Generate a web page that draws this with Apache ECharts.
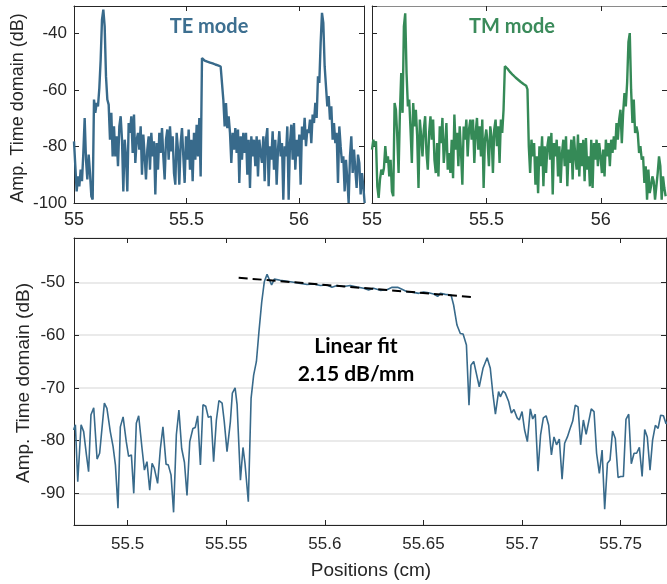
<!DOCTYPE html>
<html>
<head>
<meta charset="utf-8">
<script src="https://cdn.jsdelivr.net/npm/echarts@6/dist/echarts.min.js"></script>
<style>
  html, body { margin: 0; padding: 0; background: #fff; }
  #chart { width: 667px; height: 584px; }
</style>
</head>
<body>
<div id="chart"></div>
<script>
// TE mode trace (top left), sampled from 55 cm on a fixed step
var teStart = 55.0, teStep = 0.005926;
var teValues = [
  -78.2, -87.0, -95.9, -90.6, -94.1, -88.2, -92.3, -82.3, -69.9, -84.7,
  -91.7, -82.9, -89.4, -97.6, -98.8, -63.4, -68.1, -64.6, -65.8, -59.3,
  -49.3, -35.1, -31.6, -37.5, -55.2, -63.4, -65.2, -77.6, -68.1, -83.5,
  -72.9, -83.5, -76.4, -87.0, -72.9, -69.3, -77.6, -95.9, -77.6, -83.5,
  -95.9, -71.7, -75.2, -69.3, -82.3, -68.7, -85.8, -77.6, -75.2, -81.1,
  -72.9, -90.0, -75.8, -83.5, -91.7, -81.1, -76.4, -88.2, -75.2, -83.5,
  -78.2, -97.0, -78.8, -88.2, -75.2, -82.3, -73.5, -83.5, -91.7, -77.6,
  -74.0, -84.7, -72.9, -81.7, -76.4, -89.4, -93.5, -75.2, -81.1, -93.5,
  -78.8, -73.5, -83.5, -92.9, -76.4, -84.7, -74.0, -88.2, -77.6, -92.3,
  -75.2, -84.7, -72.3, -83.5, -69.9, -90.6,
  -48.7, -49.3, -49.6, -49.8, -50.0, -50.1, -50.3, -50.5, -50.6, -50.8,
  -51.0, -51.1, -51.3, -51.5, -51.7, -52.1, -63.4,
  -72.9, -64.6, -73.5, -69.3, -75.2, -85.8, -75.2, -81.1, -73.5, -82.3,
  -74.0, -92.9, -76.4, -84.7, -75.2, -82.3, -75.2, -90.0, -77.6, -94.7,
  -76.4, -83.5, -77.6, -87.0, -76.4, -90.6, -77.6, -82.3, -85.8, -76.4,
  -92.3, -77.6, -73.5, -94.1, -79.9, -84.7, -74.6, -88.2, -77.6, -93.5,
  -81.1, -74.6, -83.5, -78.8, -98.8, -79.9, -83.5, -72.9, -98.8, -78.8,
  -72.3, -84.7, -71.7, -88.2, -77.6, -83.5, -75.8, -93.5, -72.9, -77.6,
  -69.9, -79.9, -74.0, -75.2, -70.5, -78.8, -68.7, -71.7, -64.6, -69.9,
  -55.2, -57.5, -43.4, -32.7, -36.3, -51.6, -58.7, -65.8, -62.2, -70.5,
  -65.8, -77.6, -71.7, -78.8, -75.2, -92.9, -72.9, -79.9, -85.8, -83.5,
  -95.9, -84.7, -91.7, -100.0, -83.5, -76.4, -89.4, -81.1, -88.2, -94.7,
  -82.9, -85.8, -97.0, -89.4, -94.1, -100.0
];

// TM mode trace (top right)
var tmStart = 55.0, tmStep = 0.005806;
var tmValues = [
  -81.1, -77.6, -79.9, -78.2, -94.1, -98.2, -91.7, -88.2, -90.0, -87.6,
  -79.9, -85.8, -83.5, -90.6, -84.7, -95.9, -97.6, -64.6, -67.0, -76.4,
  -89.4, -68.1, -54.0, -68.1, -37.5, -32.9, -54.0, -65.8, -63.4, -74.0,
  -85.8, -64.6, -72.9, -67.0, -76.4, -94.7, -70.5, -76.4, -83.5, -74.0,
  -69.3, -82.3, -88.2, -75.2, -69.3, -77.6, -70.5, -84.7, -89.4, -78.8,
  -90.6, -72.9, -78.8, -69.9, -85.8, -79.9, -71.7, -88.2, -82.3, -89.4,
  -77.6, -91.2, -68.7, -81.1, -75.2, -87.0, -72.9, -82.3, -93.5, -72.9,
  -77.6, -70.5, -83.5, -74.0, -70.5, -77.6, -70.5, -85.8, -75.2, -69.9,
  -81.1, -72.9, -83.5, -70.5, -94.7, -77.6, -74.0, -78.8, -87.0, -72.9,
  -76.4, -89.4, -74.0, -70.5, -79.9, -72.9, -85.8, -70.5, -75.2, -67.0,
  -51.6, -51.9, -52.5, -53.1, -53.7, -54.2, -54.7, -55.1, -55.6, -56.0,
  -56.4, -56.8, -57.2, -57.6, -57.9, -58.2, -58.5, -59.8,
  -79.9, -89.4, -77.6, -83.5, -78.8, -93.5, -83.5, -96.5, -79.9, -87.0,
  -76.4, -94.1, -79.9, -89.4, -79.9, -76.4, -84.7, -75.2, -97.0, -78.8,
  -83.5, -77.6, -90.6, -79.9, -92.9, -82.3, -77.6, -87.0, -76.4, -94.1,
  -81.1, -85.8, -77.6, -91.7, -76.4, -83.5, -88.2, -75.8, -90.6, -78.8,
  -87.0, -77.6, -92.3, -77.0, -88.2, -83.5, -94.1, -77.6, -94.7, -78.8,
  -84.7, -77.6, -87.0, -78.8, -83.5, -89.4, -81.1, -90.6, -77.6, -83.5,
  -78.8, -87.0, -77.6, -82.3, -76.4, -81.1, -71.7, -77.6, -70.5, -67.0,
  -78.8, -68.1, -61.1, -65.8, -57.5, -43.0, -39.9, -59.9, -71.7, -63.4,
  -75.2, -72.9, -75.2, -82.3, -79.9, -84.7, -83.5, -92.9, -87.0, -98.8,
  -88.2, -96.5, -94.1, -90.6, -92.3, -98.8, -94.1, -89.4, -83.5, -87.0,
  -98.8, -90.6, -94.7, -97.6
];

// zoomed TE trace (bottom)
var zoomX = [
  55.4726, 55.4735, 55.4747, 55.4764, 55.4777, 55.4791, 55.4802, 55.4814, 55.4828, 55.4845,
  55.4858, 55.4882, 55.4895, 55.4912, 55.4926, 55.4938, 55.4951, 55.4963, 55.4977, 55.4993,
  55.5005, 55.5019, 55.5031, 55.5044, 55.5056, 55.5073, 55.5085, 55.5098, 55.5112, 55.5124,
  55.5135, 55.5152, 55.5166, 55.5179, 55.5195, 55.5206, 55.5220, 55.5233, 55.5247, 55.5260,
  55.5274, 55.5288, 55.5301, 55.5315, 55.5331, 55.5343, 55.5355, 55.5369, 55.5382, 55.5396,
  55.5409, 55.5423, 55.5436, 55.5450, 55.5463, 55.5479, 55.5490, 55.5504,
  55.5521, 55.5531, 55.5545, 55.5555, 55.5572, 55.5585, 55.5595, 55.5612, 55.5626, 55.5639,
  55.5653, 55.5666, 55.5680, 55.5693, 55.5707, 55.5720, 55.5730, 55.5744, 55.5774, 55.5808,
  55.5842, 55.5876, 55.5910, 55.5943, 55.5977, 55.6011, 55.6036, 55.6062, 55.6095, 55.6129,
  55.6163, 55.6197, 55.6222, 55.6247, 55.6281, 55.6315, 55.6341, 55.6369, 55.6391, 55.6417,
  55.6450, 55.6476, 55.6501, 55.6526, 55.6552, 55.6572, 55.6586, 55.6611, 55.6640, 55.6653,
  55.6670, 55.6687, 55.6701, 55.6718, 55.6731, 55.6741, 55.6755, 55.6783, 55.6802, 55.6823,
  55.6839, 55.6853, 55.6865, 55.6881, 55.6890, 55.6904, 55.6915, 55.6932, 55.6946, 55.6959,
  55.6975, 55.6986, 55.7000, 55.7013, 55.7027, 55.7042, 55.7054, 55.7067, 55.7081, 55.7094,
  55.7108, 55.7122, 55.7135, 55.7149, 55.7162, 55.7175, 55.7189, 55.7203, 55.7216, 55.7230,
  55.7243, 55.7257, 55.7270, 55.7284, 55.7297, 55.7311, 55.7325, 55.7338, 55.7351, 55.7365,
  55.7378, 55.7392, 55.7406, 55.7419, 55.7433, 55.7446, 55.7459, 55.7473, 55.7487, 55.7500,
  55.7514, 55.7527, 55.7541, 55.7554, 55.7568, 55.7581, 55.7595, 55.7609, 55.7622, 55.7635,
  55.7649, 55.7662, 55.7676, 55.7690, 55.7703, 55.7717, 55.7730, 55.7737
];
var zoomY = [
  -78.0, -77.0, -87.8, -77.0, -78.3, -82.7, -85.9, -75.1, -73.8, -83.5,
  -82.4, -72.9, -73.9, -78.3, -81.1, -84.6, -92.8, -77.4, -75.5, -80.2,
  -83.0, -82.7, -90.0, -76.7, -75.3, -81.5, -85.6, -84.0, -89.4, -84.3,
  -85.2, -88.1, -81.5, -77.4, -84.5, -84.6, -86.5, -93.6, -78.9, -74.2,
  -81.5, -84.1, -90.4, -80.2, -77.7, -77.5, -75.3, -84.6, -73.2, -73.5,
  -75.6, -75.4, -84.0, -76.1, -72.4, -72.9, -76.4, -82.1,
  -76.4, -71.0, -70.0, -73.2, -87.5, -81.3, -84.3, -91.6, -72.0, -67.6,
  -65.0, -59.3, -53.7, -49.9, -48.5, -49.6, -50.5, -49.4, -49.6, -49.8,
  -50.0, -50.2, -50.4, -50.3, -50.6, -50.5, -50.95, -50.6, -50.8, -50.6,
  -50.9, -51.14, -51.46, -51.14, -51.52, -51.4, -50.95, -50.95, -51.33, -51.78,
  -51.9, -52.09, -51.84, -51.97, -52.22, -52.66, -52.09, -52.28, -52.41, -54.3,
  -58.1, -59.7, -59.8, -61.9, -73.3, -65.7, -65.0, -69.8, -66.3, -64.3,
  -66.3, -71.4, -75.0, -70.7, -71.7, -70.6, -71.0, -72.6, -74.8, -74.1,
  -75.7, -76.1, -74.5, -78.0, -80.2, -74.0, -75.9, -75.0, -85.8, -78.9,
  -75.7, -75.3, -77.1, -82.7, -79.3, -80.8, -79.7, -87.3, -80.5, -79.3,
  -77.8, -76.3, -73.3, -73.6, -80.8, -76.1, -78.8, -76.4, -74.0, -74.5,
  -82.4, -86.2, -81.8, -93.0, -84.3, -83.7, -78.2, -79.6, -87.0, -86.8,
  -86.8, -76.0, -75.0, -84.4, -82.4, -82.4, -81.3, -86.8, -77.9, -79.3,
  -85.6, -79.9, -77.1, -77.7, -75.2, -75.3, -76.8, -76.4
];

// linear fit end points
var fitX = [55.5563, 55.6763];
var fitY = [-49.13, -52.84];

var teColor = '#386a8b';
var tmColor = '#358a57';
var axisColor = '#262626';

function pairs(xs, ys) {
  return ys.map(function (y, i) { return [xs[i], y]; });
}
function stepped(start, step, ys) {
  return ys.map(function (y, i) { return [+(start + i * step).toFixed(5), y]; });
}

function makeAxis(grid, min, max, pos, withLabels, fontSize, margin, extra) {
  var ax = {
    type: 'value', gridIndex: grid, position: pos, min: min, max: max,
    axisLine: { show: true, onZero: false, lineStyle: { color: axisColor, width: 1 } },
    axisTick: { show: true, inside: true, length: 5, lineStyle: { color: axisColor } },
    axisLabel: {
      show: withLabels, margin: margin, showMaxLabel: false,
      color: axisColor, fontFamily: 'Liberation Sans', fontSize: fontSize
    },
    splitLine: { show: false }
  };
  return echarts.util.merge(ax, extra || {}, true);
}

var topXMax = 56.289;
var zoomXMin = 55.4728, zoomXMax = 55.7730;
var noMin = { axisLabel: { showMinLabel: false } };

var option = {
  animation: false,
  backgroundColor: '#ffffff',
  grid: [
    { left: 74, top: 6, width: 290, height: 197 },
    { left: 372, top: 6, width: 296, height: 197 },
    { left: 74, top: 238, width: 592, height: 287 }
  ],
  xAxis: [
    makeAxis(0, 55, topXMax, 'bottom', true, 18, 8, { interval: 0.5 }),
    makeAxis(1, 55, topXMax, 'bottom', true, 18, 8, { interval: 0.5 }),
    makeAxis(2, zoomXMin, zoomXMax, 'bottom', true, 17, 11,
      { splitNumber: 6, axisLabel: { showMinLabel: false } }),
    makeAxis(0, 55, topXMax, 'top', false, 18, 8, { interval: 0.5 }),
    makeAxis(1, 55, topXMax, 'top', false, 18, 8,
      { interval: 0.5, axisLine: { lineStyle: { color: '#8a8a8a' } } }),
    makeAxis(2, zoomXMin, zoomXMax, 'top', false, 17, 8, { splitNumber: 6 })
  ],
  yAxis: [
    makeAxis(0, -100, -30.3, 'left', true, 17, 7, { interval: 20 }),
    makeAxis(1, -100, -30.3, 'left', false, 17, 7, { interval: 20 }),
    makeAxis(2, -96, -41.6, 'left', true, 17, 9, {
      splitNumber: 5,
      axisLabel: { showMinLabel: false },
      splitLine: { show: true, lineStyle: { color: '#e3e3e3', width: 1.5 } }
    }),
    makeAxis(0, -100, -30.3, 'right', false, 17, 7, { interval: 20 }),
    makeAxis(1, -100, -30.3, 'right', false, 17, 7, { interval: 20 }),
    makeAxis(2, -96, -41.6, 'right', false, 17, 7, { splitNumber: 5 })
  ],
  series: [
    {
      name: 'TE', type: 'line', xAxisIndex: 0, yAxisIndex: 0,
      data: stepped(teStart, teStep, teValues), showSymbol: false,
      lineStyle: { color: teColor, width: 2.4 }, clip: true
    },
    {
      name: 'TM', type: 'line', xAxisIndex: 1, yAxisIndex: 1,
      data: stepped(tmStart, tmStep, tmValues), showSymbol: false,
      lineStyle: { color: tmColor, width: 2.4 }, clip: true
    },
    {
      name: 'TE zoom', type: 'line', xAxisIndex: 2, yAxisIndex: 2,
      data: pairs(zoomX, zoomY), showSymbol: false,
      lineStyle: { color: teColor, width: 1.6 }, clip: true
    },
    {
      name: 'Linear fit', type: 'line', xAxisIndex: 2, yAxisIndex: 2,
      data: pairs(fitX, fitY), showSymbol: false,
      lineStyle: { color: '#000000', width: 2, type: [9, 5] }, z: 5
    }
  ],
  graphic: [
    { type: 'text', x: 209, y: 27, style: { text: 'TE mode', align: 'center', verticalAlign: 'middle',
      font: 'bold 20px Lato', fill: '#3d6f90' } },
    { type: 'text', x: 512, y: 27, style: { text: 'TM mode', align: 'center', verticalAlign: 'middle',
      font: 'bold 20px Lato', fill: '#3b8b5b' } },
    { type: 'text', x: 356, y: 346, z: 10, style: { text: 'Linear fit', align: 'center', verticalAlign: 'middle',
      font: 'bold 21px Lato', fill: '#000000' } },
    { type: 'text', x: 356, y: 374, z: 10, style: { text: '2.15 dB/mm', align: 'center', verticalAlign: 'middle',
      font: 'bold 21px Lato', fill: '#000000' } },
    { type: 'text', x: 18, y: 108, rotation: Math.PI / 2, style: { text: 'Amp. Time domain (dB)',
      align: 'center', verticalAlign: 'middle', font: '18px "Liberation Sans"', fill: axisColor } },
    { type: 'text', x: 24, y: 383, rotation: Math.PI / 2, style: { text: 'Amp. Time domain (dB)',
      align: 'center', verticalAlign: 'middle', font: '19px "Liberation Sans"', fill: axisColor } },
    { type: 'text', x: 371, y: 571, style: { text: 'Positions (cm)',
      align: 'center', verticalAlign: 'middle', font: '19px "Liberation Sans"', fill: axisColor } }
  ]
};

var chart = echarts.init(document.getElementById('chart'), null, { renderer: 'canvas' });
chart.setOption(option);
</script>
</body>
</html>
